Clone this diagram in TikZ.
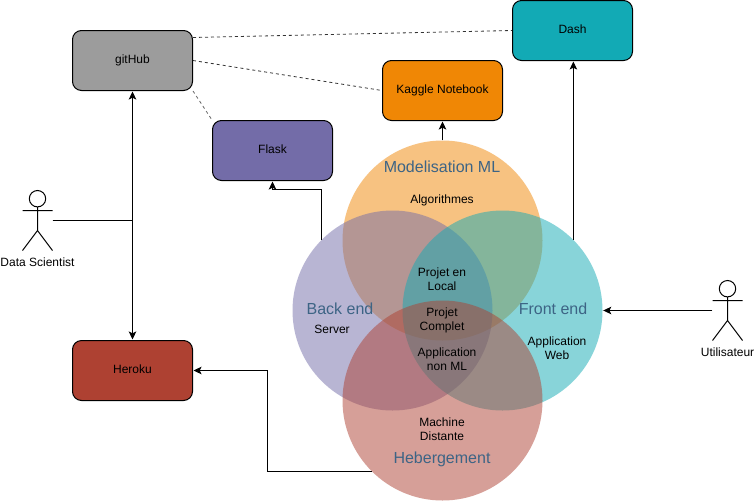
\documentclass[tikz,border=0pt]{standalone}
\usepackage{fontspec}
\setmainfont{Liberation Sans}
\usetikzlibrary{arrows.meta}
\definecolor{cOrange}{HTML}{F08705}
\definecolor{cPurple}{HTML}{736CA8}
\definecolor{cTeal}{HTML}{12AAB5}
\definecolor{cRed}{HTML}{AE4132}
\definecolor{cGrey}{HTML}{9C9C9C}
\definecolor{cTitle}{HTML}{3D6485}
\newcommand{\boxlabel}[1]{\raisebox{2pt}{#1}}
\tikzset{
  x=1pt,y=-1pt,
  box/.style={draw=black,line width=1pt,rounded corners=9pt,minimum width=120pt,minimum height=60pt,inner sep=0pt,font=\fontsize{12}{14}\selectfont},
  venn/.style={circle,minimum size=200pt,inner sep=0pt,fill opacity=0.5},
  vtitle/.style={inner sep=0pt,text=cTitle,font=\fontsize{16}{18}\selectfont},
  vtext/.style={inner sep=0pt,align=center,font=\fontsize{12}{14}\selectfont},
  actorbody/.style={line width=1pt},
  actorbox/.style={minimum width=30pt,minimum height=60pt,inner sep=0pt},
  conn/.style={draw=black,line width=1pt,-{Stealth[length=8pt,width=7.5pt,inset=1.8pt]},shorten >=0.5pt},
  plain/.style={draw=black,line width=1pt},
  link/.style={draw=black!80,line width=0.8pt,dashed,dash pattern=on 3pt off 3pt},
}
\begin{document}
\begin{tikzpicture}
\useasboundingbox (0,0) rectangle (754,501);
\fill[white] (0,0) rectangle (754,501);
% boxes
\node[box,fill=cGrey] (github) at (132.5,60.5) {\boxlabel{gitHub}};
\node[box,fill=cPurple] (flask) at (272.5,150.5) {\boxlabel{Flask}};
\node[box,fill=cTeal] (dash) at (572.5,30.5) {\boxlabel{Dash}};
\node[box,fill=cOrange] (kaggle) at (442.5,90.5) {\boxlabel{Kaggle Notebook}};
\node[box,fill=cRed] (heroku) at (132.5,370.5) {\boxlabel{Heroku}};
% venn
\node[venn,fill=cOrange] (top) at (442.5,240.5) {};
\node[venn,fill=cPurple] (left) at (392.5,310.5) {};
\node[venn,fill=cTeal] (right) at (502.5,310.5) {};
\node[venn,fill=cRed] (bottom) at (442.5,400.5) {};
% venn labels
\node[vtitle] (tModel) at (442,167) {Modelisation ML};
\node[vtitle] (tBack) at (340,308.5) {Back end};
\node[vtitle] (tFront) at (553,308.5) {Front end};
\node[vtitle] (tHeb) at (442,459) {Hebergement};
\node[vtext] (lAlgo) at (442,200) {Algorithmes};
\node[vtext] (lServer) at (332,329) {Server};
\node[vtext] (lWeb) at (557,348) {Application\\Web};
\node[vtext] (lMachine) at (442,429) {Machine\\Distante};
\node[vtext] (lLocal) at (442,279.5) {Projet en\\Local};
\node[vtext] (lComplet) at (442,320) {Projet\\Complet};
\node[vtext] (lNonML) at (447,359) {Application\\non ML};
% actors
\node[actorbox] (ds) at (37.5,220.5) {};
\draw[actorbody,fill=white] (37.5,198.7) circle (8.2pt);
\draw[actorbody] (37.5,207) -- (37.5,230.5) (22.5,210.5) -- (52.5,210.5) (22.5,250.5) -- (37.5,230.5) -- (52.5,250.5);
\node[vtext,anchor=center] (dsLabel) at (37.5,262.5) {Data Scientist};
\node[actorbox] (user) at (727.5,310.5) {};
\draw[actorbody,fill=white] (727.5,288.7) circle (8.2pt);
\draw[actorbody] (727.5,297) -- (727.5,320.5) (712.5,300.5) -- (742.5,300.5) (712.5,340.5) -- (727.5,320.5) -- (742.5,340.5);
\node[vtext,anchor=center] (userLabel) at (727.5,352.5) {Utilisateur};
% connectors
\draw[conn] (ds.east) -| (github.south);
\draw[conn] (ds.east) -| (heroku.north);
\draw[conn] (user.west) -- (right.east);
\draw[conn] (top.north) -- (kaggle.south);
\draw[conn] (right.north east) -- (right.north east |- dash.south);
\draw[conn] (left.north west) |- ++(-25,-50) -| (flask.south);
\draw[conn] (bottom.south west) -- ++(-104,0) |- (heroku.east);
\draw[link] ([yshift=23pt]github.east) -- (dash.west);
\draw[link] (github.east) -- (kaggle.west);
\draw[link,draw=black!60] (github.south east) -- (flask.north west);
\end{tikzpicture}
\end{document}
